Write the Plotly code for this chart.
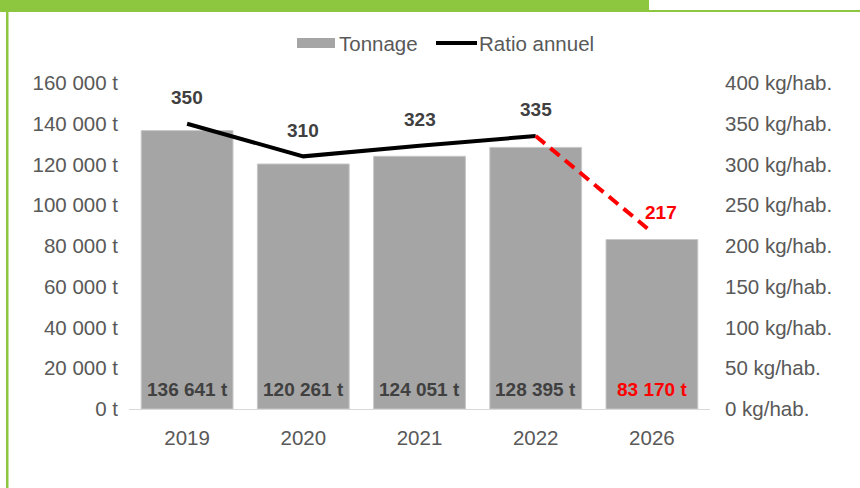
import plotly.graph_objects as go

# ---- data ----
years = ["2019", "2020", "2021", "2022", "2026"]
tonnage = [136641, 120261, 124051, 128395, 83170]
tonnage_labels = ["136 641 t", "120 261 t", "124 051 t", "128 395 t", "83 170 t"]
ratio = [350, 310, 323, 335, 217]
left_ticks = [0, 20000, 40000, 60000, 80000, 100000, 120000, 140000, 160000]
left_ticktext = ["0 t", "20 000 t", "40 000 t", "60 000 t", "80 000 t",
                 "100 000 t", "120 000 t", "140 000 t", "160 000 t"]
right_ticks = [0, 50, 100, 150, 200, 250, 300, 350, 400]
right_ticktext = [f"{v} kg/hab." for v in right_ticks]

W, H = 860, 488
ML, MR, MT, MB = 129, 150, 83, 79
PW, PH = W - ML - MR, H - MT - MB

def px(x):
    return (x - ML) / PW

def py(y):
    return (H - MB - y) / PH

FONT = "Liberation Sans, Arial, Helvetica, sans-serif"
GREY = "#a5a5a5"
TICK = "#595959"
LAB = "#404040"
RED = "#ff0000"
GREEN = "#8dc63f"
TS = 20.5   # tick / legend font size
BS = 19     # bold label font size

fig = go.Figure()
fig.add_trace(go.Bar(x=years, y=tonnage, name="Tonnage", marker=dict(color=GREY, line=dict(color="#c8c8c8", width=1)),
                     yaxis="y", showlegend=False))
fig.add_trace(go.Scatter(x=years[:4], y=ratio[:4], name="Ratio annuel", mode="lines",
                         line=dict(color="black", width=4), yaxis="y2", showlegend=False))
fig.add_trace(go.Scatter(x=years[3:], y=ratio[3:], mode="lines",
                         line=dict(color=RED, width=4, dash="12px,7px"), yaxis="y2", showlegend=False))

ann = []
for i, lab in enumerate(tonnage_labels):
    red = years[i] == "2026"
    ann.append(dict(x=i, y=0, xref="x", yref="y", text=f"<b>{lab}</b>", showarrow=False,
                    yanchor="middle", yshift=20,
                    font=dict(family=FONT, size=BS, color=RED if red else LAB)))
for i, r in enumerate(ratio):
    red = years[i] == "2026"
    ann.append(dict(x=i, y=r, xref="x", yref="y2", text=f"<b>{r}</b>", showarrow=False,
                    yanchor="middle", yshift=20 if red else 26, xshift=9 if red else 0,
                    font=dict(family=FONT, size=BS, color=RED if red else LAB)))

# manual legend
ann.append(dict(x=px(337), y=py(43), xref="paper", yref="paper", text="Tonnage", showarrow=False,
                xanchor="left", yanchor="middle", font=dict(family=FONT, size=TS, color=TICK)))
ann.append(dict(x=px(477), y=py(43), xref="paper", yref="paper", text="Ratio annuel", showarrow=False,
                xanchor="left", yanchor="middle", font=dict(family=FONT, size=TS, color=TICK)))

shapes = [
    dict(type="rect", xref="paper", yref="paper", x0=px(297), x1=px(335), y0=py(48), y1=py(38),
         fillcolor=GREY, line=dict(width=0)),
    dict(type="line", xref="paper", yref="paper", x0=px(436), x1=px(477), y0=py(43), y1=py(43),
         line=dict(color="black", width=4)),
    # green frame
    dict(type="rect", xref="paper", yref="paper", x0=px(0), x1=px(649), y0=py(12), y1=py(0),
         fillcolor=GREEN, line=dict(width=0)),
    dict(type="rect", xref="paper", yref="paper", x0=px(649), x1=px(860), y0=py(12), y1=py(10),
         fillcolor=GREEN, line=dict(width=0)),
    dict(type="rect", xref="paper", yref="paper", x0=px(6), x1=px(8.5), y0=py(488), y1=py(12),
         fillcolor=GREEN, line=dict(width=0)),
]

fig.update_layout(
    width=W, height=H,
    margin=dict(l=ML, r=MR, t=MT, b=MB),
    paper_bgcolor="white", plot_bgcolor="white",
    font=dict(family=FONT, size=TS, color=TICK),
    bargap=0.21,
    xaxis=dict(type="category", range=[-0.5, 4.5], showgrid=False, showline=True, linecolor="#d9d9d9",
               linewidth=1, ticks="", tickfont=dict(size=TS, color=TICK), ticklabelstandoff=10),
    yaxis=dict(range=[0, 160000], tickvals=left_ticks, ticktext=left_ticktext, showgrid=False,
               zeroline=False, showline=False, ticks="", tickfont=dict(size=TS, color=TICK),
               ticklabelstandoff=10),
    yaxis2=dict(range=[0, 400], overlaying="y", side="right", tickvals=right_ticks,
                ticktext=right_ticktext, showgrid=False, zeroline=False, showline=False, ticks="",
                tickfont=dict(size=TS, color=TICK), ticklabelstandoff=14),
    annotations=ann, shapes=shapes, showlegend=False,
)
fig.write_html("out.html", config={"displayModeBar": False},
               post_script="document.body.style.margin='0';document.body.style.overflow='hidden';")
